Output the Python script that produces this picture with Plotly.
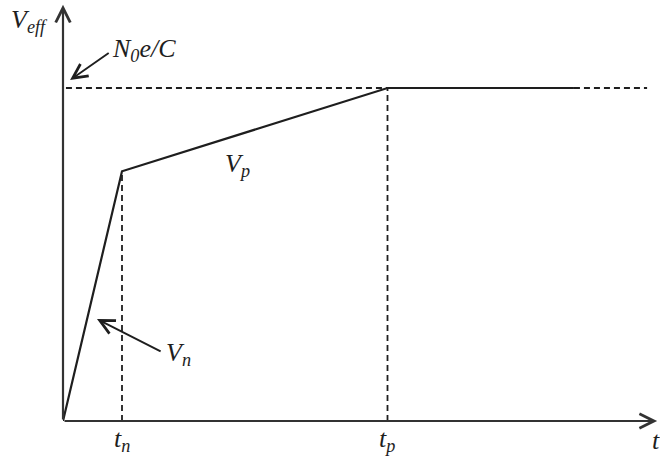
import plotly.graph_objects as go

# Piecewise effective voltage: rises to V_n at t_n, then to the plateau N0e/C at t_p
t_n = 1.0
t_p = 5.5
t_plateau_end = 8.66      # solid plateau ends here, continues dashed
t_dash_end = 9.9
t_axis_end = 10.07
v_n = 0.75                # V_eff reached at t_n
v_max = 1.0               # N0e/C level
v_axis_end = 1.25

curve_t = [0.0, t_n, t_p, t_plateau_end]
curve_v = [0.0, v_n, v_max, v_max]

X_MAX = 597 / 59
Y_MAX = 421 / 333

FONT = "Liberation Serif"
INK = "#1e1e1e"
DASH = "6px,4px"

fig = go.Figure()

# main curve
fig.add_trace(go.Scatter(x=curve_t, y=curve_v, mode="lines",
                         line=dict(color=INK, width=2.2), hoverinfo="skip"))

# dashed guides
guides = [([t_n, t_n], [0, v_n]),
          ([t_p, t_p], [0, v_max]),
          ([0.05, t_p], [v_max, v_max]),
          ([t_plateau_end, t_dash_end], [v_max, v_max])]
for gx, gy in guides:
    fig.add_trace(go.Scatter(x=gx, y=gy, mode="lines",
                             line=dict(color=INK, width=1.8, dash=DASH),
                             hoverinfo="skip"))

annotations = []

# axes drawn as arrows
for (x, y) in [(t_axis_end, 0), (0, v_axis_end)]:
    annotations.append(dict(x=x, y=y, ax=0, ay=0, xref="x", yref="y",
                            axref="x", ayref="y", showarrow=True, arrowhead=5,
                            arrowsize=1.3, arrowwidth=2.2, arrowcolor="#333333",
                            text=""))

# pointer arrows
annotations.append(dict(x=0.12, y=1.024, ax=0.80, ay=1.108, xref="x", yref="y",
                        axref="x", ayref="y", showarrow=True, arrowhead=5,
                        arrowsize=1.5, arrowwidth=1.9, arrowcolor=INK, text=""))
annotations.append(dict(x=0.576, y=0.306, ax=1.68, ay=0.207, xref="x", yref="y",
                        axref="x", ayref="y", showarrow=True, arrowhead=5,
                        arrowsize=1.5, arrowwidth=1.9, arrowcolor=INK, text=""))

def label(text, x, y, xanchor="left", yanchor="middle", size=26):
    # positions in data units, placed through paper coordinates so that
    # labels outside the axis ranges are still drawn
    annotations.append(dict(x=x / X_MAX, y=y / Y_MAX, xref="paper", yref="paper",
                            text=text, showarrow=False, xanchor=xanchor,
                            yanchor=yanchor,
                            font=dict(family=FONT, size=size, color=INK)))

label("<i>V<sub>eff</sub></i>", -0.92, 1.2)
label("<i>N<sub>0</sub>e/C</i>", 0.8, 1.115)
label("<i>V<sub>p</sub></i>", 2.72, 0.77)
label("<i>V<sub>n</sub></i>", 1.72, 0.2)
label("<i>t<sub>n</sub></i>", t_n, -0.058, xanchor="center")
label("<i>t<sub>p</sub></i>", t_p, -0.058, xanchor="center")
label("<i>t</i>", 9.95, -0.058)

fig.update_layout(
    width=660, height=462,
    margin=dict(l=63, r=0, t=0, b=41),
    paper_bgcolor="white", plot_bgcolor="white",
    showlegend=False,
    xaxis=dict(range=[0, X_MAX], visible=False, fixedrange=True),
    yaxis=dict(range=[0, Y_MAX], visible=False, fixedrange=True),
    annotations=annotations,
)

fig.write_html("out.html")
